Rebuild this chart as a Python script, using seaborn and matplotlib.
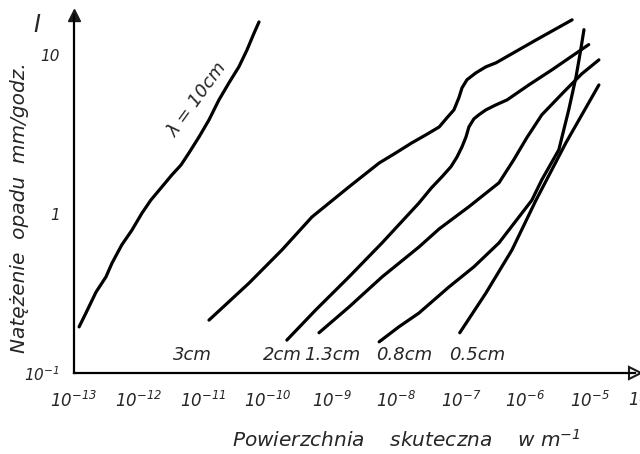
import pandas as pd
import matplotlib
matplotlib.use("Agg")
import matplotlib.pyplot as plt
import seaborn as sns

# curves (x: effective cross-section in m^-1, y: rain rate mm/h)
x_10cm = [1.2e-13, 1.53e-13, 2.2e-13, 3.13e-13, 3.9e-13, 5.5e-13, 7.9e-13, 1.13e-12, 1.55e-12, 2.31e-12,
          3.3e-12, 4.56e-12, 6.07e-12, 8.7e-12, 1.24e-11, 1.77e-11, 2.53e-11, 3.6e-11, 4.8e-11, 6.2e-11, 7.4e-11]
y_10cm = [0.195, 0.238, 0.323, 0.402, 0.492, 0.638, 0.79, 1.01, 1.22, 1.48,
          1.76, 2.03, 2.42, 3.05, 3.90, 5.21, 6.67, 8.4, 10.7, 13.7, 16.1]

x_3cm = [1.24e-11, 5.2e-11, 1.68e-10, 4.9e-10, 1.84e-9, 5.4e-9, 9.8e-9, 1.74e-8, 2.86e-8, 4.6e-8,
         6.07e-8, 7.8e-8, 9.3e-8, 1.04e-7, 1.24e-7, 1.71e-7, 2.44e-7, 3.5e-7, 1.46e-6, 5.3e-6]
y_3cm = [0.215, 0.368, 0.594, 0.957, 1.48, 2.09, 2.42, 2.80, 3.14, 3.52,
         4.02, 4.51, 5.37, 6.2, 6.97, 7.71, 8.41, 8.91, 12.4, 16.6]

x_2cm = [2.0e-10, 5.6e-10, 1.84e-9, 6.0e-9, 2.23e-8, 3.5e-8, 5.07e-8, 7.0e-8, 8.7e-8, 1.04e-7,
         1.2e-7, 1.33e-7, 1.59e-7, 1.9e-7, 2.44e-7, 3.5e-7, 5.2e-7, 1.13e-6, 2.58e-6, 9.6e-6]
y_2cm = [0.161, 0.249, 0.402, 0.658, 1.17, 1.46, 1.71, 1.98, 2.28, 2.64,
         3.05, 3.52, 3.96, 4.2, 4.51, 4.85, 5.21, 6.47, 8.05, 11.6]

x_13cm = [6.3e-10, 1.84e-9, 6.0e-9, 2.23e-8, 4.6e-8, 1.33e-7, 3.9e-7, 6.6e-7, 1.05e-6, 1.8e-6,
          3.95e-6, 7.5e-6, 1.38e-5]
y_13cm = [0.179, 0.260, 0.402, 0.619, 0.805, 1.11, 1.57, 2.19, 3.01, 4.2,
          5.85, 7.6, 9.3]

x_08cm = [5.4e-9, 1.09e-8, 2.23e-8, 6.5e-8, 1.59e-7, 3.9e-7, 1.26e-6, 1.8e-6, 3.3e-6, 4.7e-6,
          6.1e-6, 7.2e-6, 8.1e-6]
y_08cm = [0.157, 0.195, 0.238, 0.347, 0.465, 0.658, 1.22, 1.64, 2.53, 4.51,
          7.27, 10.7, 14.4]

x_05cm = [9.6e-8, 2.44e-7, 6.2e-7, 1.46e-6, 4.25e-6, 1.38e-5]
y_05cm = [0.179, 0.318, 0.594, 1.22, 2.80, 6.47]

curve_names = ["10cm", "3cm", "2cm", "1.3cm", "0.8cm", "0.5cm"]
curve_x = [x_10cm, x_3cm, x_2cm, x_13cm, x_08cm, x_05cm]
curve_y = [y_10cm, y_3cm, y_2cm, y_13cm, y_08cm, y_05cm]

# labels under the curves
label_texts = ["3cm", "2cm", "1.3cm", "0.8cm", "0.5cm"]
label_x = [6.8e-12, 1.68e-10, 1.0e-9, 1.3e-8, 1.77e-7]
label_y = 0.13

x_ticks = [1e-13, 1e-12, 1e-11, 1e-10, 1e-9, 1e-8, 1e-7, 1e-6, 1e-5]
x_tick_labels = [r"$10^{-13}$", r"$10^{-12}$", r"$10^{-11}$", r"$10^{-10}$", r"$10^{-9}$",
                 r"$10^{-8}$", r"$10^{-7}$", r"$10^{-6}$", r"$10^{-5}$"]
y_ticks = [0.1, 1, 10]
y_tick_labels = [r"$10^{-1}$", "1", "10"]

frames = []
for name, xs, ys in zip(curve_names, curve_x, curve_y):
    frames.append(pd.DataFrame({"x": xs, "y": ys, "curve": name}))
df = pd.concat(frames, ignore_index=True)

sns.set_theme(style="white")
plt.rcParams["font.family"] = ["DejaVu Sans"]
# italic digits in the exponent labels, like the hand lettering
plt.rcParams["mathtext.fontset"] = "custom"
plt.rcParams["mathtext.rm"] = "DejaVu Sans:italic"
plt.rcParams["mathtext.it"] = "DejaVu Sans:italic"
plt.rcParams["mathtext.default"] = "rm"

fig = plt.figure(figsize=(6.4, 4.54), dpi=100)
ax = fig.add_axes([0.1156, 0.1784, 0.8766, 0.7885])

sns.lineplot(data=df, x="x", y="y", hue="curve", palette=["black"] * 6,
             estimator=None, sort=False, legend=False, linewidth=2.3, ax=ax)

ax.set_xscale("log")
ax.set_yscale("log")
ax.set_xlim(1e-13, 10 ** -4.3)
ax.set_ylim(0.1, 17.8)
ax.set_xticks(x_ticks)
ax.set_xticklabels(x_tick_labels, fontsize=12)
ax.set_yticks(y_ticks)
ax.set_yticklabels(y_tick_labels, fontsize=11, style="italic")
ax.minorticks_off()
ax.tick_params(direction="out", length=4, width=1.5, color="black", pad=6)
ax.tick_params(axis="x", pad=9)
ax.set_xlabel("")
ax.set_ylabel("")

for side in ["top", "right"]:
    ax.spines[side].set_visible(False)
for side in ["left", "bottom"]:
    ax.spines[side].set_linewidth(1.6)
    ax.spines[side].set_color("black")

# arrow heads on the axes
ax.plot(1, 0, ">k", markersize=9, transform=ax.transAxes, clip_on=False,
        markerfacecolor="white", markeredgewidth=1.5)
ax.plot(0, 1, "^k", markersize=8, transform=ax.transAxes, clip_on=False)

# 10^-4 label, cut off by the right edge as in the original
fig.text(628 / 640, 1 - 400 / 454, r"$10^{-4}$", fontsize=12, ha="left", va="center")

fig.text(406 / 640, 1 - 440 / 454, r"Powierzchnia    skuteczna    w m$^{-1}$",
         fontsize=14.5, style="italic", ha="center", va="center")
fig.text(20 / 640, 1 - 208 / 454, "Natężenie  opadu  mm/godz.", fontsize=14.5, style="italic",
         rotation=90, ha="center", va="center")

fig.text(37 / 640, 1 - 25 / 454, "I", fontsize=17, style="italic", ha="center", va="center")

for t, lx in zip(label_texts, label_x):
    ax.text(lx, label_y, t, fontsize=13, style="italic", ha="center", va="center")

ax.text(8.1e-12, 5.2, "λ = 10cm", fontsize=13, style="italic", rotation=54,
        ha="center", va="center", rotation_mode="anchor")

fig.savefig("out.png", dpi=100)
